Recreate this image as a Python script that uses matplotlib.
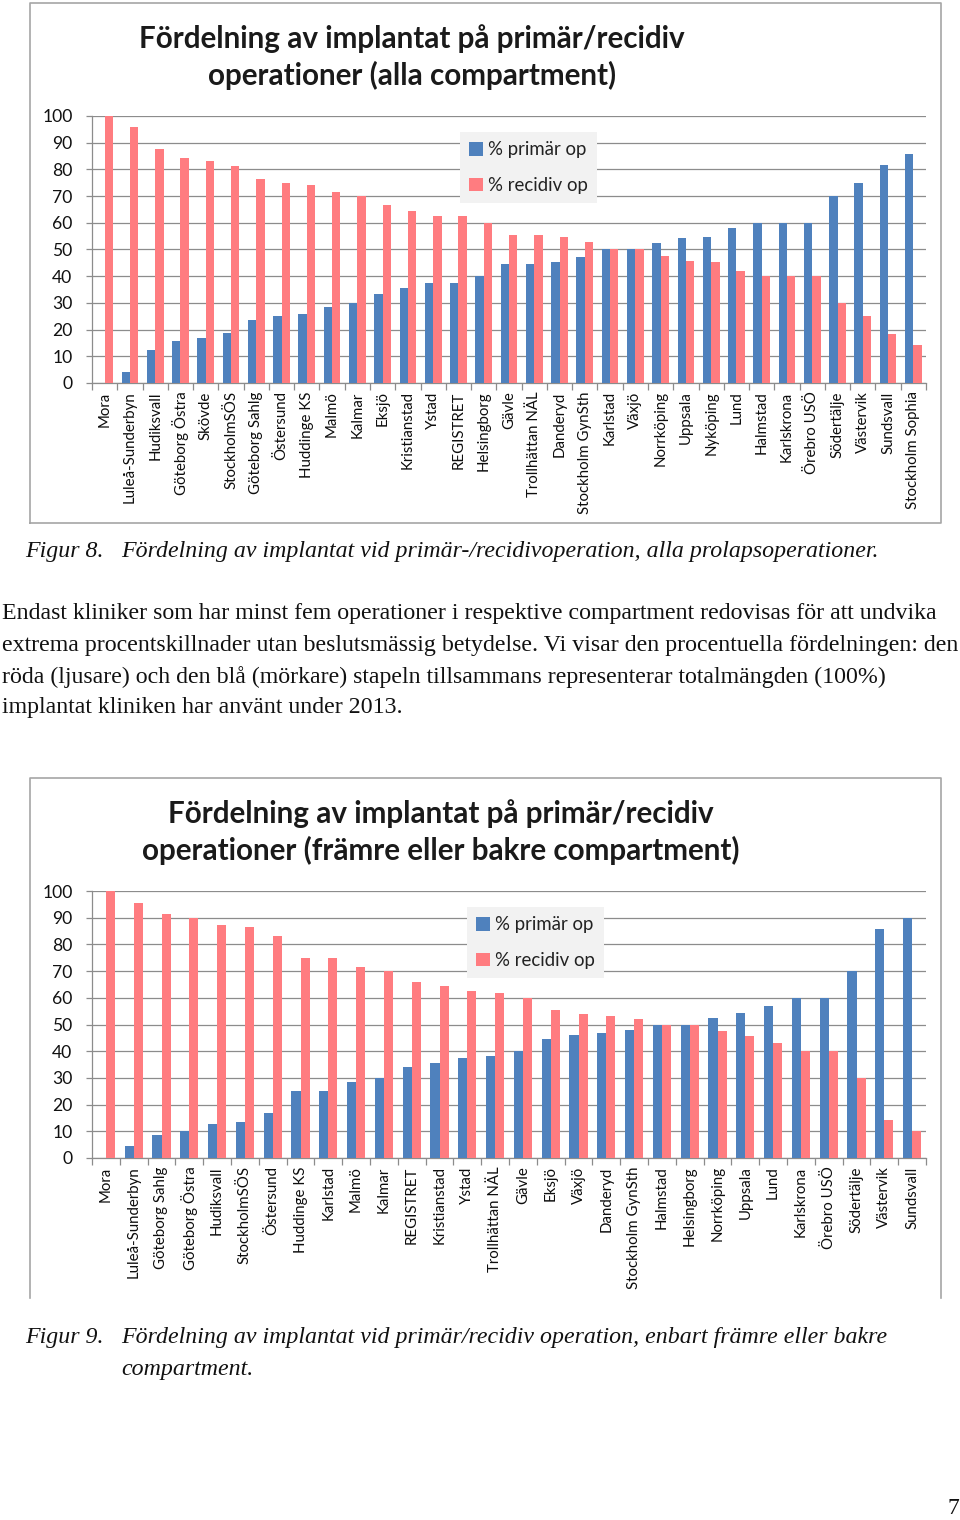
import matplotlib.pyplot as plt
from matplotlib.lines import Line2D

# --- data: figur 8 (alla compartment) ---
kliniker_alla = ["Mora", "Luleå-Sunderbyn", "Hudiksvall", "Göteborg Östra", "Skövde",
                 "StockholmSÖS", "Göteborg Sahlg", "Östersund", "Huddinge KS", "Malmö",
                 "Kalmar", "Eksjö", "Kristianstad", "Ystad", "REGISTRET", "Helsingborg",
                 "Gävle", "Trollhättan NÄL", "Danderyd", "Stockholm GynSth", "Karlstad",
                 "Växjö", "Norrköping", "Uppsala", "Nyköping", "Lund", "Halmstad",
                 "Karlskrona", "Örebro USÖ", "Södertälje", "Västervik", "Sundsvall",
                 "Stockholm Sophia"]
primar_alla = [0, 4.2, 12.5, 15.8, 16.9, 18.8, 23.7, 25, 25.8, 28.6,
               30, 33.3, 35.5, 37.5, 37.6, 40, 44.4, 44.4, 45.5, 47.2,
               50, 50, 52.5, 54.3, 54.6, 57.9, 60, 60, 60, 70, 75, 81.8, 85.7]
recidiv_alla = [100, 95.8, 87.5, 84.2, 83.1, 81.2, 76.3, 75, 74.2, 71.4,
                70, 66.7, 64.5, 62.5, 62.4, 60, 55.6, 55.6, 54.5, 52.8,
                50, 50, 47.5, 45.7, 45.4, 42.1, 40, 40, 40, 30, 25, 18.2, 14.3]

# --- data: figur 9 (främre eller bakre compartment) ---
kliniker_fb = ["Mora", "Luleå-Sunderbyn", "Göteborg Sahlg", "Göteborg Östra", "Hudiksvall",
               "StockholmSÖS", "Östersund", "Huddinge KS", "Karlstad", "Malmö", "Kalmar",
               "REGISTRET", "Kristianstad", "Ystad", "Trollhättan NÄL", "Gävle", "Eksjö",
               "Växjö", "Danderyd", "Stockholm GynSth", "Halmstad", "Helsingborg",
               "Norrköping", "Uppsala", "Lund", "Karlskrona", "Örebro USÖ", "Södertälje",
               "Västervik", "Sundsvall"]
primar_fb = [0, 4.5, 8.6, 10, 12.9, 13.3, 16.7, 25, 25, 28.6, 30,
             34, 35.7, 37.5, 38.1, 40, 44.4, 46.2, 46.9, 48, 50, 50,
             52.6, 54.4, 57.1, 60, 60, 70, 85.7, 90]
recidiv_fb = [100, 95.5, 91.4, 90, 87.1, 86.7, 83.3, 75, 75, 71.4, 70,
              66, 64.3, 62.5, 61.9, 60, 55.6, 53.8, 53.1, 52, 50, 50,
              47.4, 45.6, 42.9, 40, 40, 30, 14.3, 10]

serier = ["% primär op", "% recidiv op"]
titel_alla = "Fördelning av implantat på primär/recidiv\noperationer (alla compartment)"
titel_fb = "Fördelning av implantat på primär/recidiv\noperationer (främre eller bakre compartment)"

BLA = "#4f81bd"
ROD = "#ff7c80"
GRID = "#8c8c8c"
SANS = ["Lato", "DejaVu Sans"]
SERIF = ["Liberation Serif", "DejaVu Serif"]

W, H = 960, 1520
fig = plt.figure(figsize=(W / 100, H / 100), dpi=100)
fig.patch.set_facecolor("white")


def fx(x):
    return x / W


def fy(y):
    return 1 - y / H


def chart(top_px, kliniker, primar, recidiv, titel, titel_x, legend_xy, bottom_border=True):
    # chart frame (Excel chart area)
    x0, x1, y0, y1 = 30, 941, top_px, top_px + 520
    pts = [(x0, y1), (x0, y0), (x1, y0), (x1, y1)]
    if bottom_border:
        pts.append((x0, y1))
    fig.add_artist(Line2D([fx(p[0]) for p in pts], [fy(p[1]) for p in pts],
                          color="#a6a6a6", lw=1.2, transform=fig.transFigure))

    fig.text(fx(titel_x), fy(top_px + 54), titel, ha="center", va="center",
             fontsize=21.3, fontweight="bold", family=SANS, linespacing=1.35,
             color="#1a1a1a")

    ax_top = top_px + 113
    ax_bot = top_px + 380
    ax = fig.add_axes([fx(92), fy(ax_bot), fx(926) - fx(92), (ax_bot - ax_top) / H])
    n = len(kliniker)
    pos = list(range(n))
    w = 0.33
    ax.bar([p - w / 2 for p in pos], primar, width=w, color=BLA, label=serier[0], zorder=3)
    ax.bar([p + w / 2 for p in pos], recidiv, width=w, color=ROD, label=serier[1], zorder=3)
    ax.set_xlim(-0.5, n - 0.5)
    ax.set_ylim(0, 100)
    ax.set_yticks(range(0, 101, 10))
    ax.yaxis.grid(True, color=GRID, lw=0.9, zorder=0)
    ax.set_axisbelow(True)
    for s in ["top", "right"]:
        ax.spines[s].set_visible(False)
    for s in ["left", "bottom"]:
        ax.spines[s].set_color(GRID)
        ax.spines[s].set_linewidth(0.9)
    ax.set_xticks([p + 0.5 for p in range(-1, n)], minor=False)
    ax.set_xticklabels([])
    ax.set_xticks(pos, minor=True)
    ax.set_xticklabels(kliniker, minor=True, rotation=90, fontsize=10.8,
                       family=SANS, color="#0d0d0d", va="top", ha="center")
    ax.tick_params(axis="x", which="major", length=5, color=GRID, width=0.9)
    ax.tick_params(axis="x", which="minor", length=0, pad=6)
    ax.tick_params(axis="y", length=4, color=GRID, width=0.9, pad=10,
                   labelsize=12.6, labelcolor="#111111")
    for t in ax.get_yticklabels():
        t.set_family(SANS)

    leg = ax.legend(loc="upper left", bbox_transform=fig.transFigure,
                    bbox_to_anchor=(fx(legend_xy[0]), fy(legend_xy[1])),
                    frameon=True, facecolor="#f2f2f2", edgecolor="none",
                    fancybox=False, framealpha=1, borderpad=0.5,
                    handlelength=0.75, handleheight=0.75, handletextpad=0.25,
                    labelspacing=1.0, borderaxespad=0,
                    prop={"family": SANS, "size": 13.4})
    for t in leg.get_texts():
        t.set_color("#222222")
    return ax


chart(3, kliniker_alla, primar_alla, recidiv_alla, titel_alla, 412, (460, 132))
chart(778, kliniker_fb, primar_fb, recidiv_fb, titel_fb, 441, (467, 907), bottom_border=False)

# captions and body text
cap = dict(fontsize=17.2, family=SERIF, style="italic", va="center", color="#111111")
fig.text(fx(25), fy(551), "Figur 8.", **cap)
fig.text(fx(121), fy(551),
         "Fördelning av implantat vid primär-/recidivoperation, alla prolapsoperationer.", **cap)

body = dict(fontsize=17.2, family=SERIF, va="center", color="#111111")
rader = [
    "Endast kliniker som har minst fem operationer i respektive compartment redovisas för att undvika",
    "extrema procentskillnader utan beslutsmässig betydelse. Vi visar den procentuella fördelningen: den",
    "röda (ljusare) och den blå (mörkare) stapeln tillsammans representerar totalmängden (100%)",
    "implantat kliniken har använt under 2013.",
]
for i, r in enumerate(rader):
    fig.text(fx(2), fy(614 + i * 31.3), r, **body)

fig.text(fx(25), fy(1338), "Figur 9.", **cap)
fig.text(fx(121), fy(1338),
         "Fördelning av implantat vid primär/recidiv operation, enbart främre eller bakre", **cap)
fig.text(fx(121), fy(1369), "compartment.", **cap)

fig.text(fx(959), fy(1508), "7", ha="right", va="center", fontsize=17,
         family=SERIF, color="#111111")

fig.savefig("out.png", dpi=100)
